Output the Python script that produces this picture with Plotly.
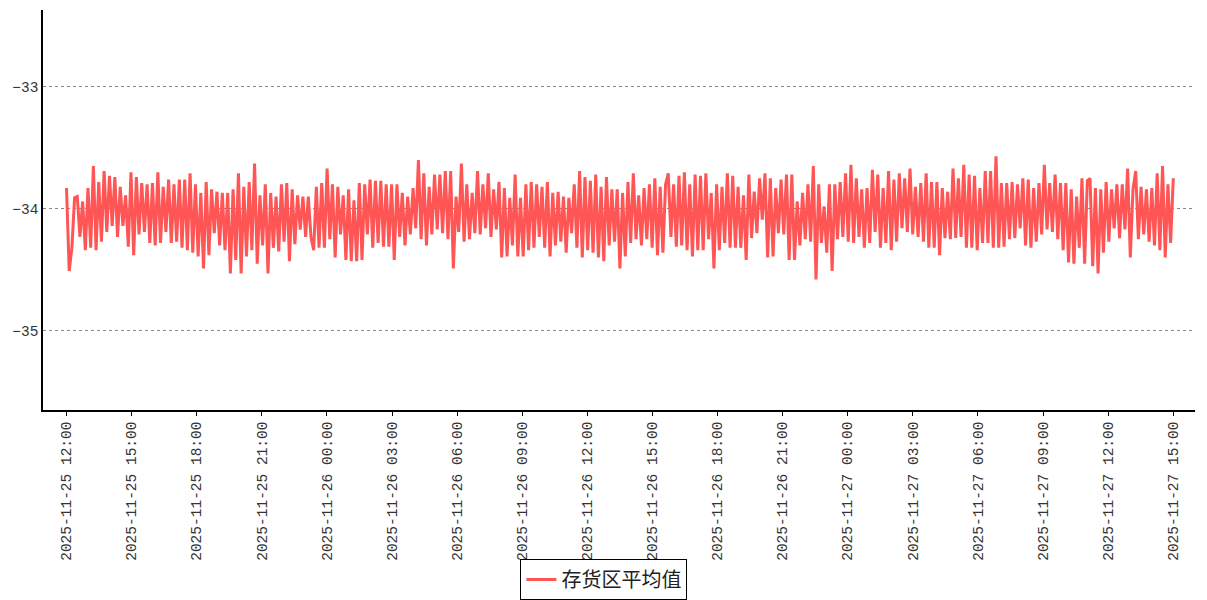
import pandas as pd
import plotly.graph_objects as go

# Messreihe (Extremwerte der Kurve)
werte = [
    -33.83, -34.51, -34.32, -33.91, -33.90, -34.23, -33.94, -34.34, -33.83, -34.32, -33.65, -34.34, -33.78, -34.27, -33.69,
    -34.19, -33.73, -34.14, -33.74, -34.23, -33.82, -34.14, -33.89, -34.31, -33.70, -34.38, -33.74, -34.21, -33.79, -34.19,
    -33.80, -34.28, -33.79, -34.30, -33.70,
    -34.28, -33.82, -34.19, -33.76, -34.28, -33.80, -34.27, -33.76, -34.32, -33.76, -34.34, -33.71, -34.36, -33.80, -34.39,
    -33.87, -34.49, -33.78, -34.38, -33.84, -34.20, -33.86, -34.30, -33.87, -34.34, -33.87, -34.53, -33.84, -34.42, -33.71,
    -34.53, -33.82, -34.39, -33.78, -34.34, -33.63, -34.45,
    -33.89, -34.30, -33.80, -34.53, -33.87, -34.32, -33.90, -34.35, -33.80, -34.27, -33.79, -34.43, -33.84, -34.29, -33.89,
    -34.17, -33.90, -34.23, -33.90, -34.23, -34.34, -33.82, -34.32, -33.79, -34.32, -33.67, -34.25, -33.80, -34.40, -33.82,
    -34.21, -33.89, -34.42, -33.84, -34.43, -33.93,
    -34.43, -33.79, -34.42, -33.80, -34.21, -33.76, -34.32, -33.77, -34.28, -33.77, -34.31, -33.80, -34.31, -33.80, -34.42,
    -33.80, -34.23, -33.87, -34.30, -33.90, -34.21, -33.83, -34.16, -33.60, -34.25, -33.71, -34.30, -33.82, -34.21, -33.72,
    -34.17, -33.72, -34.20, -33.69, -34.25, -33.69, -34.49, -33.90, -34.19, -33.63,
    -34.27, -33.80, -34.25, -33.87, -34.20, -33.69, -34.21, -33.80, -34.16, -33.71, -34.23, -33.84, -34.17, -33.78, -34.40,
    -33.83, -34.39, -33.91, -34.30, -33.72, -34.39, -33.91, -34.39, -33.80, -34.34, -33.78, -34.32, -33.80, -34.23, -33.82,
    -34.32, -33.78, -34.39, -33.87, -34.30, -33.86, -34.27, -33.90,
    -34.36, -33.91, -34.20, -33.80, -34.32, -33.69, -34.40, -33.74, -34.34, -33.77, -34.36, -33.72, -34.40, -33.82, -34.43,
    -33.74, -34.30, -33.84, -34.27, -33.84, -34.49, -33.87, -34.39, -33.78, -34.28, -33.71, -34.25, -33.89, -34.30, -33.83,
    -34.25, -33.80, -34.32, -33.75, -34.38, -33.82,
    -34.36, -33.80, -33.71, -34.23, -33.80, -34.31, -33.73, -34.30, -33.70, -34.34, -33.80, -34.39, -33.72, -34.34, -33.73,
    -34.34, -33.71, -34.25, -33.87, -34.49, -33.80, -34.34, -33.82, -34.28, -33.71, -34.32, -33.73, -34.32, -33.82, -34.32,
    -33.89, -34.42, -33.72, -34.24, -33.86, -34.20, -33.75, -34.09, -33.71,
    -34.40, -33.75, -34.39, -33.83, -34.20, -33.76, -34.21, -33.72, -34.42, -33.72, -34.42, -33.94, -34.30, -33.87, -34.25,
    -33.80, -34.27, -33.65, -34.58, -33.80, -34.28, -33.98, -34.36, -33.80, -34.51, -33.80, -34.25, -33.78, -34.23, -33.71,
    -34.27, -33.64, -34.28, -33.75, -34.23,
    -33.84, -34.32, -33.83, -34.28, -33.68, -34.19, -33.72, -34.32, -33.83, -34.28, -33.69, -34.34, -33.76, -34.27, -33.71,
    -34.16, -33.75, -34.19, -33.67, -34.21, -33.82, -34.23, -33.79, -34.27, -33.71, -34.32, -33.78, -34.32, -33.78, -34.38,
    -33.83, -34.24, -33.86, -34.25, -33.67, -34.24, -33.75, -34.23, -33.64,
    -34.32, -33.72, -34.32, -33.73, -34.34, -33.83, -34.28, -33.69, -34.28, -33.69, -34.32, -33.57, -34.32, -33.79, -34.31,
    -33.79, -34.25, -33.78, -34.24, -33.80, -34.16, -33.75, -34.30, -33.76, -34.32, -33.83, -34.27, -33.79, -34.21, -33.64,
    -34.17, -33.79, -34.19, -33.72, -34.25, -33.79, -34.34,
    -33.79, -34.44, -33.84, -34.45, -33.90, -34.32, -33.75, -34.45, -33.77, -33.75, -34.47, -33.83, -34.53, -33.84, -34.36,
    -33.78, -34.27, -33.84, -34.16, -33.80, -34.24, -33.80, -34.17, -33.67, -34.40, -33.84, -33.69, -34.25, -33.82, -34.21,
    -33.84, -34.27, -33.83, -34.30, -33.71, -34.34, -33.65, -34.40, -33.80, -34.28, -33.75,
]

start = "2025-11-25 12:00"
ende = "2025-11-27 15:00"
zeit = pd.date_range(start, ende, periods=len(werte))

y_ticks = [-33, -34, -35]
name = "存货区平均值"

fig = go.Figure()
fig.add_trace(go.Scatter(
    x=zeit, y=werte, mode="lines", name=name,
    line=dict(color="#ff5555", width=3),
))

# Seite hat 8px Rand, daher Figur etwas kleiner
fig.update_layout(
    width=1199, height=592,
    margin=dict(l=35, r=12, t=2, b=190, autoexpand=False),
    plot_bgcolor="white", paper_bgcolor="white",
    showlegend=True,
    legend=dict(
        orientation="h", xref="container", x=0.497, xanchor="center",
        yref="container", y=0.0, yanchor="bottom",
        bordercolor="black", borderwidth=1,
        font=dict(family="Noto Sans CJK SC", size=20, color="#222"),
        itemwidth=30,
    ),
    font=dict(family="Liberation Mono", size=14.5, color="#333"),
)

fig.update_xaxes(
    range=["2025-11-25 10:55", "2025-11-27 16:00"],
    tick0=start, dtick=3 * 3600 * 1000,
    tickformat="%Y-%m-%d %H:%M", tickangle=-90,
    showgrid=False, zeroline=False, automargin=False,
    showline=True, linecolor="black", linewidth=1.5,
    ticks="outside", ticklen=4, tickcolor="black",
)
fig.update_yaxes(
    range=[-35.65, -32.37],
    tickvals=y_ticks,
    showgrid=True, gridcolor="#888", gridwidth=1, griddash="dot",
    zeroline=False, automargin=False,
    showline=True, linecolor="black", linewidth=1.5,
    ticks="",
)

fig.write_html("out.html")
